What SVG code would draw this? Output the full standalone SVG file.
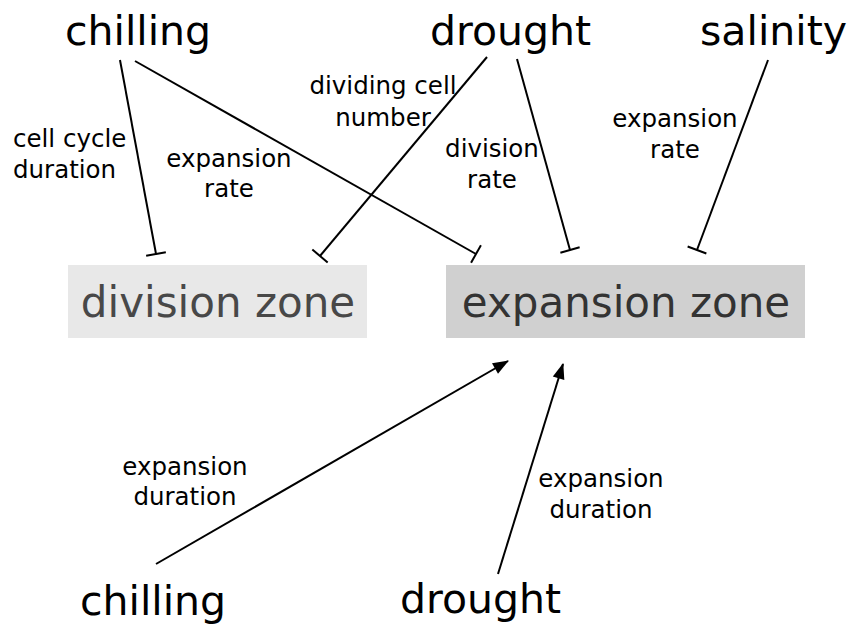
<svg xmlns="http://www.w3.org/2000/svg" width="850" height="628" viewBox="0 0 850 628">
<style>
.big{font-family:"DejaVu Sans",Verdana,sans-serif;font-size:41px;fill:#000}
.zone{font-family:"DejaVu Sans",Verdana,sans-serif;font-size:42px;text-anchor:middle}
.lbl{font-family:"DejaVu Sans",Verdana,sans-serif;font-size:24.5px;fill:#000}
.c{text-anchor:middle}
.inh{stroke:#000;stroke-width:2;fill:none;marker-end:url(#tbar)}
.act{stroke:#000;stroke-width:2;fill:none;marker-end:url(#arrow)}
</style>
<defs>
<marker id="tbar" markerUnits="userSpaceOnUse" markerWidth="4" markerHeight="24" refX="2" refY="12" orient="auto" overflow="visible">
<path d="M2,2 L2,22" stroke="#000" stroke-width="2"/>
</marker>
<marker id="arrow" markerUnits="userSpaceOnUse" markerWidth="16" markerHeight="12" refX="15" refY="6" orient="auto" overflow="visible">
<path d="M0,0 L16,6 L0,12 z" fill="#000"/>
</marker>
</defs>
<rect width="850" height="628" fill="#fff"/>
<g id="division-zone">
<rect x="68" y="265" width="299" height="73" fill="#e8e8e8"/>
<text class="zone" x="218" y="317" fill="#484848">division zone</text>
</g>
<g id="expansion-zone">
<rect x="446" y="265" width="359" height="73" fill="#d0d0d0"/>
<text class="zone" x="626" y="317" fill="#333">expansion zone</text>
</g>
<g id="chilling-top"><text class="big" x="65" y="45">chilling</text></g>
<g id="drought-top"><text class="big" x="430" y="45">drought</text></g>
<g id="salinity-top"><text class="big" x="700" y="45">salinity</text></g>
<g id="chilling-bottom"><text class="big" x="80" y="615">chilling</text></g>
<g id="drought-bottom"><text class="big" x="400" y="613">drought</text></g>
<g id="connectors">
<line class="inh" x1="120" y1="60" x2="156" y2="254"/>
<line class="inh" x1="135" y1="61" x2="476" y2="254"/>
<line class="inh" x1="487" y1="57" x2="320" y2="256"/>
<line class="inh" x1="517" y1="59" x2="570" y2="250"/>
<line class="inh" x1="768" y1="60" x2="697" y2="250"/>
<line class="act" x1="156" y1="564" x2="508" y2="361"/>
<line class="act" x1="498" y1="574" x2="563" y2="364"/>
</g>
<g id="labels">
<text class="lbl" x="13" y="147">cell cycle</text>
<text class="lbl" x="13" y="178">duration</text>
<text class="lbl c" x="229" y="167">expansion</text>
<text class="lbl c" x="229" y="197">rate</text>
<text class="lbl c" x="383" y="94">dividing cell</text>
<text class="lbl c" x="383" y="126">number</text>
<text class="lbl c" x="492" y="157">division</text>
<text class="lbl c" x="492" y="188">rate</text>
<text class="lbl c" x="675" y="127">expansion</text>
<text class="lbl c" x="675" y="158">rate</text>
<text class="lbl c" x="185" y="475">expansion</text>
<text class="lbl c" x="185" y="505">duration</text>
<text class="lbl c" x="601" y="487">expansion</text>
<text class="lbl c" x="601" y="518">duration</text>
</g>
</svg>
